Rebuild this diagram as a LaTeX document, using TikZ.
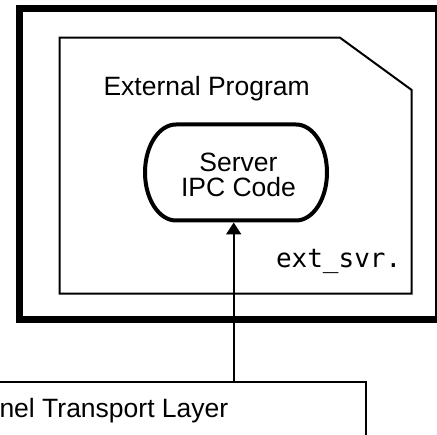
\documentclass[tikz,border=0pt]{standalone}
\usepackage{fontspec}
\setmainfont{Liberation Sans}
\newfontfamily\monof{DejaVu Sans Mono}
\usetikzlibrary{arrows.meta}
\begin{document}
\begin{tikzpicture}[x=1pt,y=1pt,
  thinline/.style={line width=2pt},
  lbl/.style={inner sep=0pt, outer sep=0pt, font=\fontsize{26.5}{25}\selectfont},
  monolbl/.style={inner sep=0pt, outer sep=0pt, font=\monof\fontsize{26}{26}\selectfont},
  conn/.style={line width=2pt, -{Triangle[length=12pt,width=15pt]}}]
\useasboundingbox (0,0) rectangle (437,-435);
\begin{scope}
\clip (0,0) rectangle (437,-435);
% outer thick frame
\draw[line width=7pt] (19.5,-9) rectangle (438.5,-319.5);
% inner program box with chamfered corner
\draw[thinline] (59.7,-37.7) -- (340,-37.7) -- (411.7,-90) -- (411.7,-293.7) -- (59.7,-293.7) -- cycle;
\node[lbl, anchor=base west] (ext) at (103.5,-95.5) {External Program};
\node[monolbl, anchor=base west] (file) at (276,-268) {ext\_svr.};
% stadium
\node[inner sep=0pt, outer sep=2pt, minimum width=182pt, minimum height=96pt] (srv) at (236,-172.5) {};
\draw[line width=4pt] (176,-124.5) -- (296,-124.5)
  arc[start angle=90, end angle=-90, x radius=31pt, y radius=48pt]
  -- (176,-220.5)
  arc[start angle=-90, end angle=-270, x radius=31pt, y radius=48pt] -- cycle;
\node[lbl, align=center] (srvtxt) at (238.5,-174.4) {Server\\IPC Code};
% bottom transport box
\node[draw, thinline, inner sep=0pt, outer sep=0pt, minimum width=375.5pt, minimum height=63.3pt, anchor=north east] (tl) at (365.5,-381.7) {};
\node[lbl, anchor=base west] (tltxt) at (-0.5,-418) {nel Transport Layer};
\coordinate (ax) at (233.7,0);
\draw[conn] (tl.north -| ax) -- (srv.south -| ax);
\end{scope}
\end{tikzpicture}
\end{document}
